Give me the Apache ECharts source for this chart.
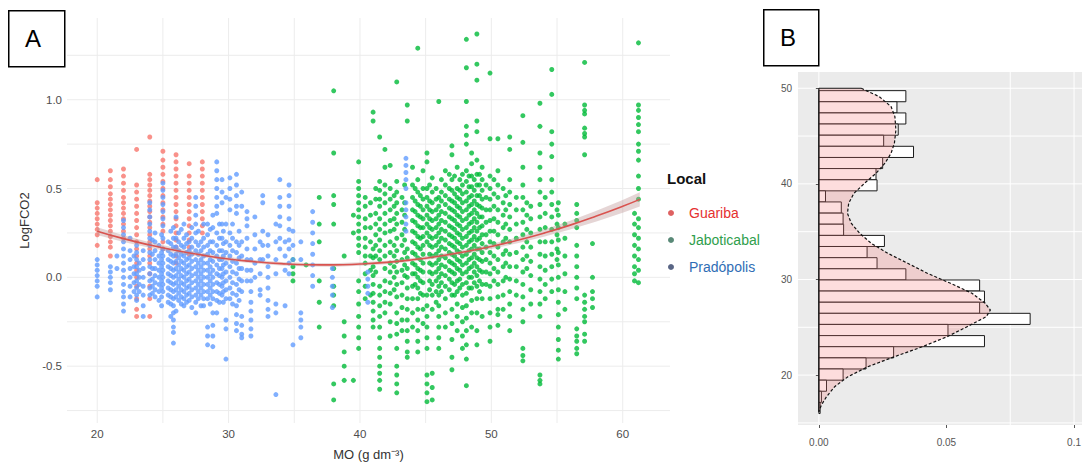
<!DOCTYPE html>
<html><head><meta charset="utf-8">
<script src="https://cdn.jsdelivr.net/npm/echarts@6/dist/echarts.min.js"></script>
<style>html,body{margin:0;padding:0;background:#fff}#c{width:1084px;height:466px}</style>
</head><body><div id="c"></div>
<script>
// ---------- Panel A data: columns [MO, [LogFCO2 values...]] ----------
const guaribaCols = [
  [20,[0.55,0.42,0.39,0.36,0.33,0.30,0.27,0.24,0.18]],
  [21,[0.60,0.55,0.51,0.47,0.44,0.41,0.38,0.35,0.32,0.29,0.26,0.23,0.20,0.17,0.12]],
  [22,[0.61,0.57,0.53,0.49,0.45,0.42,0.39,0.36,0.33,0.30,0.26,0.22]],
  [23,[0.72,0.52,0.48,0.44,0.40,0.36,0.32,0.28,0.24,0.20,0.16,0.12,0.08,0.04,0.00,-0.05,-0.12,-0.18,-0.22]],
  [24,[0.79,0.58,0.55,0.52,0.49,0.46,0.43,0.40,0.37,0.34,0.31,0.28,0.24,0.20,0.16,0.12,0.08,0.02,-0.05,-0.12,-0.22]],
  [25,[0.71,0.66,0.62,0.58,0.54,0.50,0.46,0.42,0.38,0.34,0.30,0.26,0.20,0.16]],
  [26,[0.69,0.65,0.61,0.57,0.53,0.49,0.45,0.41,0.37,0.33,0.29,0.25,0.21,0.17,0.12,0.08]],
  [27,[0.64,0.57,0.53,0.49,0.45,0.41,0.37,0.33,0.29,0.25,0.21,0.17,0.13]],
  [28,[0.65,0.61,0.57,0.53,0.49,0.45,0.41,0.37,0.33,0.29,0.25]]
];
const jaboticabalCols = [
  [34.9,[0.10,0.06,0.02,-0.02]],
  [35.9,[0.07]],
  [36.9,[0.45,0.30,0.20,-0.02,-0.14,-0.28]],
  [38.0,[1.05,0.70,0.46,0.41,0.30,0.05,-0.05,-0.10,-0.16,-0.60,-0.69]],
  [38.8,[0.12,-0.25,-0.33,-0.42,-0.50,-0.58]],
  [39.5,[0.35,0.25,-0.58]],
  [39.9,[0.65,0.54,0.50,0.46,0.42,0.38,0.34,0.30,0.26,0.22,0.18,0.14,-0.02,-0.08,-0.15,-0.22,-0.28,-0.34,-0.40]],
  [40.4,[0.45,0.40,0.33,0.28,0.22,0.17,0.12,0.08,0.02,-0.05,-0.12]],
  [40.8,[0.42,0.35,0.28,0.20,0.12,0.04,-0.10]],
  [41.0,[0.93,0.88,0.16,0.11,0.06,0.01,-0.04,-0.09,-0.14,-0.19,-0.24,-0.28]],
  [41.2,[0.50,0.44,0.36,0.30,0.24,0.18,0.12,0.03]],
  [41.5,[0.79,0.54,0.49,0.44,0.40,0.33,0.27,0.21,0.15,0.10,-0.05,-0.10,-0.16,-0.22,-0.28,-0.34,-0.40,-0.45,-0.50,-0.54,-0.58,-0.63]],
  [41.9,[0.72,0.62,0.52,0.47,0.42,0.36,0.30,0.25,0.18,0.12,0.05,-0.02,-0.08,-0.14,-0.20]],
  [42.3,[0.63,0.50,0.44,0.38,0.32,0.26,0.20,0.14,0.08,0.03,-0.03,-0.09,-0.15,-0.25,-0.33]],
  [42.6,[0.46,0.40,0.33,0.27,0.18,0.12,0.06,0.00,-0.07]],
  [42.8,[1.10,0.54,0.48,0.42,0.36,0.30,0.22,0.15,0.09,0.03,-0.04,-0.11,-0.20,-0.26,-0.32,-0.40,-0.50,-0.55,-0.60,-0.65]],
  [43.2,[0.45,0.38,0.31,0.24,0.18,0.10,0.04,-0.03,-0.10,-0.17,-0.24,-0.30]],
  [43.4,[0.52,0.42,0.35,0.27,0.21,0.14,0.07,0.01]],
  [43.6,[0.97,0.88,0.16,0.11,0.05,0.00,-0.06,-0.12,-0.18,-0.24,-0.30,-0.36,-0.42,-0.45]],
  [44.0,[0.62,0.52,0.45,0.38,0.32,0.26,0.20,0.14,0.08,0.02,-0.05,-0.12,-0.20,-0.28]],
  [44.2,[0.50,0.43,0.37,0.31,0.25,0.19,0.13,0.07,0.02,-0.04]],
  [44.4,[1.29,0.55,0.48,0.41,0.35,0.29,0.23,0.17,0.11,0.05,0.00,-0.06,-0.12,-0.18,-0.24,-0.30,-0.36,-0.42]],
  [44.6,[0.46,0.40,0.34,0.28,0.22,0.16,0.10,0.04,-0.02,-0.09]],
  [44.8,[0.60,0.50,0.44,0.38,0.33,0.28,0.23,0.18,0.13,0.08,0.03,-0.03,-0.10,-0.18,-0.26]],
  [45.1,[0.70,0.65,0.50,0.45,0.40,0.35,0.30,0.25,0.20,-0.10,-0.16,-0.22,-0.28,-0.34,-0.40,-0.55,-0.60,-0.65,-0.70]],
  [45.3,[0.52,0.43,0.38,0.33,0.28,0.23,0.18,0.13,0.08,0.03,-0.02,-0.07]],
  [45.5,[0.56,0.48,0.42,0.37,0.32,0.27,0.22,0.17,0.12,0.07,0.02,-0.04,-0.10,-0.18,-0.54,-0.62,-0.69]],
  [45.8,[0.50,0.44,0.38,0.33,0.28,0.23,0.18,0.13,0.08,0.03,-0.02,-0.08,-0.14]],
  [46.0,[0.99,0.45,0.40,0.35,0.30,0.25,0.20,0.15,0.10,0.05,0.00,-0.05,-0.10,-0.16,-0.22,-0.28,-0.34,-0.40]],
  [46.2,[0.55,0.48,0.43,0.37,0.32,0.27,0.22,0.17,0.12,0.07,0.02,-0.03,-0.08]],
  [46.5,[0.60,0.52,0.46,0.41,0.36,0.31,0.26,0.21,0.16,0.11,0.06,0.01,-0.05,-0.12,-0.20,-0.28]],
  [46.8,[0.58,0.50,0.44,0.39,0.34,0.29,0.24,0.19,0.14,0.09,0.04,-0.01,-0.07]],
  [47.0,[0.74,0.69,0.55,0.49,0.43,0.38,0.33,0.28,0.23,0.18,0.13,0.08,0.03,-0.03,-0.10,-0.18,-0.26,-0.35,-0.45,-0.52]],
  [47.2,[0.57,0.47,0.42,0.37,0.32,0.27,0.22,0.17,0.12,0.07,0.02,-0.04,-0.10]],
  [47.4,[0.62,0.50,0.45,0.40,0.35,0.30,0.25,0.20,0.15,0.10,0.05,-0.02,-0.08,-0.15,-0.22,-0.30]],
  [47.6,[0.55,0.49,0.44,0.39,0.34,0.29,0.24,0.19,0.14,0.09,0.04,-0.01,-0.06]],
  [47.8,[0.58,0.52,0.47,0.42,0.37,0.32,0.27,0.22,0.17,0.12,0.07,0.02,-0.04,-0.10,-0.17,-0.25,-0.33,-0.40]],
  [48.1,[1.34,1.18,0.99,0.85,0.80,0.75,0.60,0.54,0.48,0.43,0.38,0.33,0.28,0.23,0.18,0.13,0.08,0.03,-0.03,-0.09,-0.16,-0.23,-0.30,-0.38,-0.46,-0.61]],
  [48.3,[0.57,0.51,0.45,0.40,0.35,0.30,0.25,0.20,0.15,0.10,0.05,0.00,-0.06]],
  [48.5,[0.70,0.64,0.57,0.51,0.46,0.41,0.36,0.31,0.26,0.21,0.16,0.11,0.06,0.00,-0.06,-0.13,-0.20,-0.28]],
  [48.7,[0.55,0.49,0.43,0.38,0.33,0.28,0.23,0.18,0.13,0.08,0.03,-0.03]],
  [48.9,[1.37,1.20,1.11,0.88,0.82,0.66,0.58,0.52,0.46,0.41,0.36,0.31,0.26,0.21,0.16,0.11,0.06,0.01,-0.05,-0.12,-0.20,-0.30,-0.38]],
  [49.1,[0.58,0.52,0.46,0.40,0.34,0.28,0.22,0.16,0.10,0.04,-0.02,-0.08]],
  [49.3,[0.62,0.55,0.49,0.44,0.39,0.34,0.29,0.24,0.19,0.14,0.09,0.03,-0.04,-0.12,-0.22]],
  [49.6,[0.52,0.45,0.38,0.31,0.24,0.17,0.10,0.03,-0.04]],
  [49.9,[1.15,0.78,0.57,0.50,0.44,0.38,0.32,0.26,0.20,0.14,0.08,0.02,-0.05,-0.12,-0.20,-0.28,-0.36]],
  [50.2,[0.55,0.47,0.40,0.33,0.26,0.19,0.12,0.05,-0.02]],
  [50.5,[0.78,0.60,0.52,0.45,0.38,0.31,0.24,0.17,0.10,0.03,-0.04,-0.11,-0.18,-0.21,-0.27]],
  [50.9,[0.50,0.42,0.35,0.28,0.20,0.13,0.06,-0.02,-0.10,-0.18]],
  [51.1,[0.46,0.38,0.30,0.22,0.15,0.08,0.00]],
  [51.4,[0.79,0.72,0.55,0.48,0.41,0.34,0.27,0.20,0.13,0.06,-0.01,-0.08,-0.15,-0.22,-0.30]],
  [51.9,[0.45,0.38,0.30,0.22,0.14,0.06,-0.02,-0.10]],
  [52.4,[0.91,0.76,0.62,0.52,0.45,0.38,0.31,0.24,0.17,0.10,0.03,-0.04,-0.11,-0.18,-0.25,-0.40,-0.44,-0.47]],
  [52.7,[0.42,0.35,0.27,0.20,0.12,0.05]],
  [53.0,[0.40,0.33,0.25,0.17,0.09,0.01,-0.07,-0.15]],
  [53.7,[0.98,0.85,0.70,0.62,0.55,0.48,0.41,0.34,0.27,0.20,0.13,0.06,-0.01,-0.08,-0.15,-0.22,-0.55,-0.58,-0.60]],
  [54.1,[0.45,0.36,0.28,0.20,0.12,0.04,-0.04,-0.12]],
  [54.6,[1.17,1.03,0.82,0.75,0.68,0.55,0.48,0.41,0.34,0.27,0.20,0.13,0.06,-0.01,-0.08]],
  [55.0,[0.38,0.30,0.24,0.16,0.10]],
  [55.1,[0.42,0.35,0.28,0.21,0.14,0.07,0.00,-0.07,-0.14,-0.21,-0.28,-0.35,-0.41,-0.46]],
  [55.6,[0.30,0.22,0.12,0.02,-0.08,-0.18]],
  [56.5,[0.41,0.36,0.32,0.28,0.18,0.12,0.06,0.00,-0.06,-0.12,-0.29,-0.33,-0.36,-0.40,-0.43]],
  [57.1,[1.21,0.97,0.94,0.92,0.84,0.81,0.79,0.69,-0.10,-0.14,-0.18,-0.22,-0.25,-0.32,-0.36]],
  [57.7,[0.19,0.00,-0.08,-0.12,-0.17]],
  [60.9,[0.36,0.30,0.24,0.18,0.12,0.06,0.02,-0.02]],
  [61.2,[1.32,0.97,0.94,0.90,0.86,0.82,0.75,0.71,0.66,0.57,0.50,0.44,0.33,0.28,0.22,0.16,0.10,0.04,-0.03]]
];
const pradopolisCols = [
  [20.0,[0.10,0.07,0.04,0.01,-0.02,-0.05,-0.11]],
  [21.0,[0.06,0.03,0.00,-0.03,-0.07]],
  [21.5,[0.12,0.05]],
  [22.0,[0.32,0.28,0.24,0.20,0.16,0.12,0.08,0.04,0.00,-0.04,-0.08,-0.11,-0.15,-0.19]],
  [22.5,[0.22,0.15,0.10,0.05,0.00,-0.05,-0.11]],
  [22.8,[0.12,0.06,0.02,-0.03,-0.08]],
  [23.0,[0.18,0.14,0.10,0.06,0.02,-0.02,-0.06,-0.10,-0.13]],
  [23.2,[0.08,0.04,0.00,-0.04,-0.08]],
  [23.5,[0.15,0.10,0.05,0.00,-0.05,-0.10,-0.16,-0.22]],
  [24.0,[0.42,0.38,0.34,0.30,0.26,0.22,0.18,0.14,0.10,0.06,0.02,-0.02,-0.06,-0.10]],
  [24.2,[0.21,0.13,0.05,-0.01,-0.05,-0.09]],
  [24.4,[0.25,0.20,0.15,0.10,0.05,0.01,-0.03,-0.07,-0.11]],
  [24.7,[0.18,0.12,0.08,0.04,0.00,-0.04,-0.08,-0.13]],
  [24.9,[0.24,0.14,0.10,0.06,0.02,-0.02,-0.06,-0.11,-0.16]],
  [25.0,[0.53,0.49,0.45,0.41,0.37,0.33,0.29,0.22,0.16,0.12,0.08,0.04,0.00,-0.04,-0.08]],
  [25.4,[0.20,0.15,0.10,0.06,0.02,-0.02,-0.06,-0.10,-0.14]],
  [25.6,[0.26,0.19,0.13,0.09,0.05,0.01,-0.03,-0.07,-0.11,-0.15,-0.22]],
  [25.8,[0.28,0.22,0.17,0.12,0.08,0.04,0.00,-0.04,-0.08,-0.12,-0.16,-0.20,-0.24,-0.28,-0.31,-0.37]],
  [26.0,[0.34,0.22,0.17,0.13,0.09,0.05,0.01,-0.03,-0.07,-0.11,-0.19]],
  [26.2,[0.25,0.20,0.15,0.11,0.07,0.03,-0.01,-0.05,-0.09,-0.13]],
  [26.4,[0.27,0.18,0.13,0.09,0.05,0.01,-0.03,-0.07,-0.11,-0.15]],
  [26.6,[0.30,0.22,0.17,0.12,0.08,0.04,0.00,-0.04,-0.08,-0.12,-0.16]],
  [26.8,[0.24,0.19,0.14,0.10,0.06,0.02,-0.02,-0.06,-0.10,-0.14]],
  [27.0,[0.20,0.15,0.11,0.07,0.03,-0.01,-0.05,-0.09,-0.13]],
  [27.2,[0.28,0.22,0.17,0.13,0.09,0.05,0.01,-0.03,-0.07,-0.11,-0.17]],
  [27.5,[0.45,0.40,0.35,0.30,0.25,0.20,0.15,0.10,0.06,0.02,-0.02,-0.06,-0.10,-0.14,-0.20]],
  [27.7,[0.26,0.18,0.13,0.08,0.04,0.00,-0.04,-0.08,-0.12]],
  [27.9,[0.20,0.15,0.10,0.06,0.02,-0.02,-0.06,-0.10,-0.16]],
  [28.1,[0.30,0.22,0.17,0.12,0.08,0.04,0.00,-0.04,-0.08,-0.12,-0.16]],
  [28.4,[0.30,0.24,0.18,0.13,0.08,0.04,0.00,-0.04,-0.08,-0.12,-0.28,-0.33,-0.38]],
  [28.6,[0.27,0.20,0.15,0.10,0.06,0.02,-0.02,-0.06,-0.10,-0.15]],
  [28.8,[0.35,0.28,0.20,0.14,0.09,0.04,0.00,-0.04,-0.08,-0.12,-0.20,-0.27,-0.33,-0.39]],
  [29.1,[0.65,0.60,0.55,0.50,0.45,0.40,0.36,0.25,0.18,0.12,0.07,0.02,-0.03,-0.08,-0.13,-0.20]],
  [29.3,[0.30,0.22,0.15,0.10,0.05,0.01,-0.04,-0.09,-0.14]],
  [29.5,[0.55,0.48,0.42,0.30,0.22,0.15,0.10,0.05,0.00,-0.05,-0.10]],
  [29.6,[0.26,0.19,0.12,0.07,0.02,-0.03,-0.08,-0.14]],
  [29.8,[0.45,0.30,0.20,0.14,0.08,0.03,-0.02,-0.07,-0.12,-0.24,-0.29,-0.46]],
  [30.1,[0.56,0.50,0.44,0.38,0.25,0.18,0.12,0.06,0.00,-0.06,-0.12]],
  [30.3,[0.30,0.22,0.15,0.09,0.03,-0.03,-0.09,-0.15]],
  [30.6,[0.58,0.52,0.46,0.40,0.36,0.20,0.14,0.08,0.02,-0.04,-0.10,-0.16,-0.21,-0.26,-0.30]],
  [30.8,[0.26,0.18,0.11,0.05,-0.01,-0.07,-0.13]],
  [31.0,[0.48,0.40,0.20,0.12,0.05,-0.02,-0.08,-0.22,-0.27,-0.32,-0.34]],
  [31.4,[0.37,0.33,0.29,0.22,0.16,0.10,0.04,-0.02]],
  [31.7,[0.10,0.04,-0.02,-0.08,-0.14,-0.19,-0.24,-0.29,-0.33]],
  [32.0,[0.34,0.24,0.16,0.08,0.00]],
  [32.4,[0.20,0.10,0.02,-0.07,-0.10]],
  [32.6,[0.46,0.42,0.26,0.18,0.10]],
  [33.0,[0.24,0.18,0.12,0.06,0.00,-0.06,-0.13,-0.18,-0.22]],
  [33.6,[0.30,0.20,0.10,0.02,-0.15,-0.20,-0.66]],
  [33.9,[0.55,0.45,0.40,0.34,0.29,0.22,0.16]],
  [34.3,[0.20,0.12,0.04,-0.16]],
  [34.6,[0.52,0.46,0.40,0.33,0.27,0.21,0.16,0.08,0.02]],
  [34.9,[0.26,0.18,0.10,-0.38]],
  [35.5,[0.20,0.10,-0.20,-0.24,-0.28,-0.34]],
  [36.4,[0.37,0.31,0.25,0.19,0.13,0.07,0.01,-0.05]],
  [37.9,[0.05,0.00,-0.05,-0.10,-0.17]],
  [40.6,[0.03,-0.01,-0.05,-0.09,-0.14]],
  [43.5,[0.67,0.63,0.59,0.55,0.50,0.42,0.38,0.34,0.30,0.26]]
];
// quadratic smooth and its confidence half-width
const smoothX  = [20,22,24,26,28,30,32,34,36,38,40,42,44,46,48,50,52,54,56,58,60,61.3];
const smoothY  = [0.260,0.218,0.182,0.151,0.125,0.103,0.088,0.077,0.071,0.070,0.075,0.084,0.099,0.119,0.144,0.174,0.209,0.249,0.294,0.345,0.400,0.439];
const smoothSE = [0.022,0.019,0.016,0.014,0.012,0.011,0.010,0.010,0.010,0.010,0.010,0.010,0.010,0.011,0.012,0.014,0.017,0.021,0.025,0.030,0.036,0.040];
const xGridA = [20,25,30,35,40,45,50,55,60];
const yGridA = [-0.75,-0.5,-0.25,0,0.25,0.5,0.75,1.0,1.25];

// ---------- Panel B data ----------
const histEdges = [49.75,48.59,47.42,46.26,45.09,43.93,42.76,41.60,40.43,39.27,38.11,36.94,35.78,34.61,33.45,32.28,31.12,29.95,28.79,27.62,26.46,25.30,24.13,22.97,21.80,20.64,19.47,18.31,17.14,15.98];
const histDensity = [0.0341,0.0306,0.0341,0.0311,0.0254,0.0371,0.0250,0.0224,0.0228,0.0026,0.0088,0.0095,0.0097,0.0257,0.0189,0.0228,0.0341,0.0630,0.0649,0.0630,0.0828,0.0506,0.0649,0.0293,0.0185,0.0095,0.0030,0.0010,0.0005];
const densityY = [50.0,49.12,48.08,47.03,45.64,44.25,43.2,42.16,41.1,40.06,39.0,37.97,36.92,35.88,34.83,33.79,32.74,31.7,30.65,29.6,28.56,27.51,26.81,26.11,25.06,24.02,22.97,21.92,20.88,19.83,18.79,17.74,16.87,16.17];
const densityX = [0.0166,0.0237,0.0283,0.0298,0.0302,0.0296,0.0283,0.0259,0.0224,0.0179,0.0137,0.0117,0.0112,0.0127,0.0160,0.0205,0.0270,0.0348,0.0425,0.0516,0.0600,0.0652,0.0672,0.0656,0.0581,0.0503,0.0406,0.0296,0.0192,0.0114,0.0062,0.0030,0.0010,0];
const xTicksB = [0,0.05,0.1];
const xTickLabelsB = ['0.00','0.05','0.1'];
const yTicksB = [20,30,40,50];
const xGridB = [0,0.075,0.1];
const yGridB = [15,20,25,30,35,40,45,50];

// ---------- build ----------
const FONT = 'Liberation Sans, Arial, sans-serif';
function pts(cols){ const o=[]; cols.forEach(c=>c[1].forEach(y=>o.push([c[0],y]))); return o; }
function gridLines(xi, yi, xs, ys, refX, refY, color){
  const data = xs.map(v=>[v, refY, 0]).concat(ys.map(v=>[refX, v, 1]));
  return {type:'custom', xAxisIndex:xi, yAxisIndex:yi, silent:true, z:0, data, encode:{x:0,y:1},
    renderItem:(params, api)=>{
      const cs = params.coordSys; const p = api.coord([api.value(0), api.value(1)]);
      const vert = api.value(2)===0;
      return {type:'line', shape: vert ? {x1:p[0],y1:cs.y,x2:p[0],y2:cs.y+cs.height} : {x1:cs.x,y1:p[1],x2:cs.x+cs.width,y2:p[1]},
        style:{stroke:color, lineWidth:1}};
    }};
}

const chart = echarts.init(document.getElementById('c'), null, {renderer:'svg'});
const axisLabelA = {color:'#4d4d4d', fontSize:11.5, fontFamily:FONT};
chart.setOption({
  animation:false,
  textStyle:{fontFamily:FONT},
  grid:[
    {left:67, top:18, width:603, height:405, show:false},
    {left:798, top:72, width:286, height:353, show:true, backgroundColor:'#ebebeb', borderWidth:0}
  ],
  xAxis:[
    {type:'value', gridIndex:0, min:17.7, max:63.6, splitNumber:5,
     axisLine:{show:false}, axisTick:{show:false}, splitLine:{show:false},
     axisLabel:Object.assign({margin:5, showMinLabel:false, showMaxLabel:false}, axisLabelA),
     name:'MO (g dm⁻³)', nameLocation:'middle', nameGap:25, nameTextStyle:{color:'#333', fontSize:13, fontFamily:FONT}},
    {type:'value', gridIndex:1, min:-0.00817, max:0.1031, splitNumber:2,
     axisLine:{show:false}, splitLine:{show:false},
     axisTick:{show:true, length:3, lineStyle:{color:'#555'}, customValues:xTicksB},
     axisLabel:{color:'#555', fontSize:10, margin:12, customValues:xTicksB,
       formatter:v=>{const i=xTicksB.findIndex(t=>Math.abs(t-v)<1e-9); return i>=0?xTickLabelsB[i]:'';}}}
  ],
  yAxis:[
    {type:'value', gridIndex:0, min:-0.82, max:1.46, splitNumber:5,
     axisLine:{show:false}, axisTick:{show:false}, splitLine:{show:false},
     axisLabel:Object.assign({margin:5, showMinLabel:false, showMaxLabel:false, formatter:v=>v.toFixed(1)}, axisLabelA),
     name:'LogFCO2', nameLocation:'middle', nameGap:32, nameRotate:90, nameTextStyle:{color:'#333', fontSize:13, fontFamily:FONT}},
    {type:'value', gridIndex:1, min:14.78, max:51.7, splitNumber:4,
     axisLine:{show:false}, splitLine:{show:false},
     axisTick:{show:true, length:3, lineStyle:{color:'#555'}, customValues:yTicksB},
     axisLabel:{color:'#555', fontSize:10, margin:6, customValues:yTicksB}}
  ],
  legend:{
    orient:'vertical', left:663, top:201, itemWidth:6, itemHeight:6, itemGap:13, icon:'circle',
    textStyle:{fontSize:14, fontFamily:FONT, padding:[0,0,0,10]},
    data:[
      {name:'Guariba', itemStyle:{color:'#d63a3a'}, textStyle:{color:'#e53030'}},
      {name:'Jaboticabal', itemStyle:{color:'#2f6b55'}, textStyle:{color:'#2f9e4c'}},
      {name:'Pradópolis', itemStyle:{color:'#2f3e66'}, textStyle:{color:'#2f6db5'}}
    ]
  },
  graphic:[
    {type:'text', left:667, top:171, style:{text:'Local', font:'bold 15px '+FONT, fill:'#111'}},
    {type:'rect', left:8, top:10, shape:{width:56, height:56}, style:{fill:'#fff', stroke:'#000', lineWidth:1.5}},
    {type:'text', left:25, top:26, style:{text:'A', font:'24px '+FONT, fill:'#000'}},
    {type:'rect', left:763, top:9, shape:{width:55, height:56}, style:{fill:'#fff', stroke:'#000', lineWidth:1.5}},
    {type:'text', left:780, top:25, style:{text:'B', font:'24px '+FONT, fill:'#000'}}
  ],
  series:[
    gridLines(0,0,xGridA,yGridA,40,0,'#ececec'),
    {name:'Guariba', type:'scatter', xAxisIndex:0, yAxisIndex:0, data:pts(guaribaCols), symbolSize:5,
     itemStyle:{color:'#F8766D'}, z:2},
    {name:'Jaboticabal', type:'scatter', xAxisIndex:0, yAxisIndex:0, data:pts(jaboticabalCols), symbolSize:5,
     itemStyle:{color:'#00BA38'}, z:2},
    {name:'Pradópolis', type:'scatter', xAxisIndex:0, yAxisIndex:0, data:pts(pradopolisCols), symbolSize:5,
     itemStyle:{color:'#619CFF'}, z:2},
    {type:'custom', xAxisIndex:0, yAxisIndex:0, silent:true, z:3, data:[[40,0]], encode:{x:0,y:1},
     renderItem:(params, api)=>{
       const up = smoothX.map((x,i)=>api.coord([x, smoothY[i]+smoothSE[i]]));
       const lo = smoothX.map((x,i)=>api.coord([x, smoothY[i]-smoothSE[i]])).reverse();
       return {type:'polygon', shape:{points:up.concat(lo)}, style:{fill:'rgba(190,150,150,0.4)'}};
     }},
    {type:'line', xAxisIndex:0, yAxisIndex:0, data:smoothX.map((x,i)=>[x,smoothY[i]]), smooth:true,
     showSymbol:false, lineStyle:{color:'#d9534f', width:1.6}, z:4, silent:true},
    // panel B
    gridLines(1,1,xGridB,yGridB,0.05,30,'#ffffff'),
    {type:'custom', xAxisIndex:1, yAxisIndex:1, silent:true, z:2,
     data:histDensity.map((d,i)=>[d, histEdges[i], histEdges[i+1]]), encode:{x:0,y:1},
     renderItem:(params, api)=>{
       const p1 = api.coord([0, api.value(1)]); const p2 = api.coord([api.value(0), api.value(2)]);
       return {type:'rect', shape:{x:p1[0], y:p1[1], width:p2[0]-p1[0], height:p2[1]-p1[1]},
         style:{fill:'#fff', stroke:'#1a1a1a', lineWidth:1}};
     }},
    {type:'custom', xAxisIndex:1, yAxisIndex:1, silent:true, z:3, data:[[0,30]], encode:{x:0,y:1},
     renderItem:(params, api)=>{
       const curve = densityY.map((y,i)=>api.coord([densityX[i], y]));
       const top = api.coord([0, densityY[0]]); const bot = api.coord([0, densityY[densityY.length-1]]);
       return {type:'group', children:[
         {type:'polygon', shape:{points:[top].concat(curve, [bot])}, style:{fill:'rgba(248,118,118,0.25)'}},
         {type:'polyline', shape:{points:curve}, style:{stroke:'#111', lineWidth:1.2, lineDash:[3,2], fill:null}},
         {type:'line', shape:{x1:top[0], y1:top[1], x2:curve[0][0], y2:curve[0][1]}, style:{stroke:'#111', lineWidth:1.2}},
         {type:'line', shape:{x1:top[0], y1:top[1], x2:bot[0], y2:bot[1]}, style:{stroke:'#111', lineWidth:1.2}}
       ]};
     }}
  ]
});
</script></body></html>
